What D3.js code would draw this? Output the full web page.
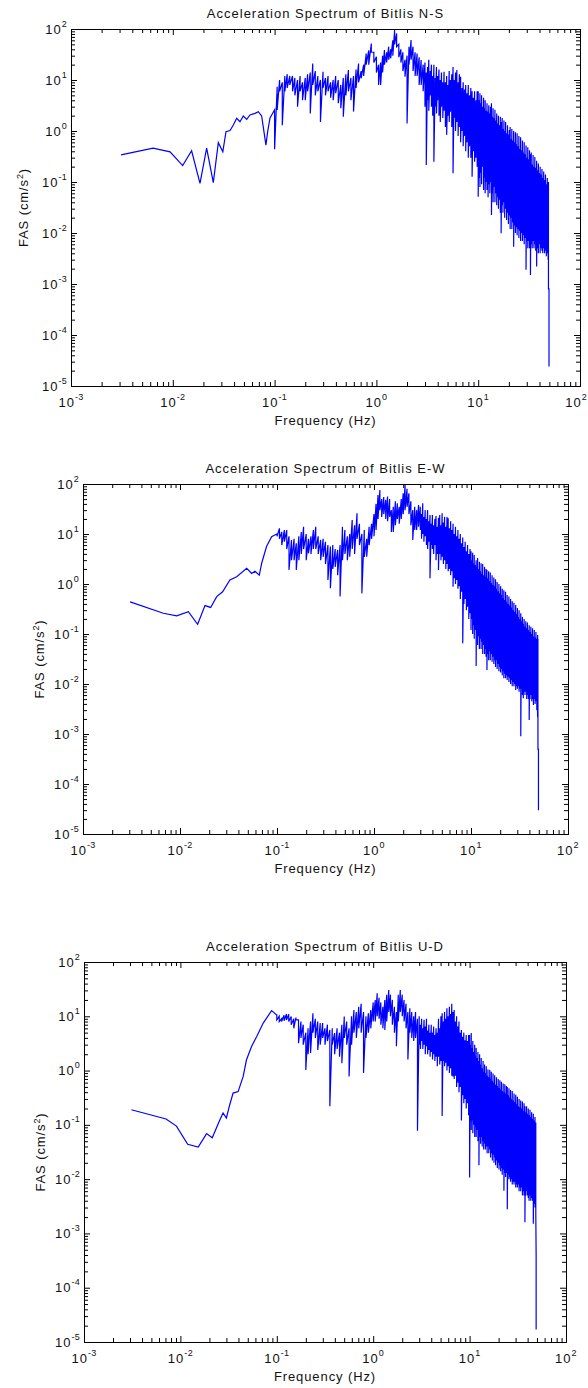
<!DOCTYPE html>
<html>
<head>
  <meta charset="utf-8">
  <script src="https://d3js.org/d3.v7.min.js"></script>
  <style>
    body {
      margin: 0;
      background: #fff;
    }
    svg text {
      font-family: "Liberation Sans", Arial, sans-serif;
      fill: #111;
    }
  </style>
</head>
<body>
<script type="text/javascript">
  "use strict";

  var titles = ["Acceleration Spectrum of Bitlis N-S",
                "Acceleration Spectrum of Bitlis E-W",
                "Acceleration Spectrum of Bitlis U-D"];
  var xTitle = "Frequency (Hz)";
  var xDecades = [1e-3, 1e-2, 1e-1, 1e0, 1e1, 1e2];
  var yDecades = [1e-5, 1e-4, 1e-3, 1e-2, 1e-1, 1e0, 1e1, 1e2];

  // smooth low frequency part of each spectrum: [Hz, cm/s2]
  var nsLow = [[0.0031,0.34],[0.0064,0.46],[0.0094,0.39],[0.0125,0.21],[0.0153,0.41],[0.0185,0.094],
    [0.0215,0.46],[0.025,0.097],[0.028,0.59],[0.031,0.39],[0.0333,0.97],[0.0365,1.02],[0.0393,1.31],
    [0.0424,1.78],[0.0457,1.52],[0.0493,1.97],[0.0532,1.69],[0.0573,2.06],[0.0641,2.22],[0.0692,2.39],
    [0.0746,1.97],[0.0822,0.53],[0.0855,0.97],[0.09,1.78],[0.0936,2.06]];
  var ewLow = [[0.00306,0.44],[0.00673,0.26],[0.00925,0.23],[0.0122,0.28],[0.0152,0.156],[0.0181,0.37],
    [0.0207,0.34],[0.0239,0.56],[0.0275,0.70],[0.0327,1.2],[0.0384,1.4],[0.0487,2.06],[0.0548,1.63],
    [0.0593,1.8],[0.0657,1.5],[0.0695,2.6],[0.078,5.6],[0.088,8.8],[0.0993,10]];
  var udLow = [[0.0031,0.19],[0.0071,0.128],[0.0091,0.095],[0.0119,0.044],[0.0153,0.039],[0.0187,0.069],
    [0.0214,0.058],[0.0255,0.12],[0.0277,0.166],[0.030,0.134],[0.0325,0.235],[0.0352,0.385],[0.0397,0.41],
    [0.0448,0.78],[0.0485,1.58],[0.0547,2.77],[0.0617,4.2],[0.0723,7.5],[0.0883,12.7],[0.0995,10.6]];

  // dense part: frequency bins (Hz); each panel gives [max, min] of the spectrum per bin
  var freqGrid = [
    // 0.1 - 1 Hz (40)
    0.100,0.106,0.112,0.119,0.126,0.133,0.141,0.150,0.158,0.168,0.178,0.188,0.200,0.211,0.224,0.237,
    0.251,0.266,0.282,0.299,0.316,0.335,0.355,0.376,0.398,0.422,0.447,0.473,0.501,0.531,0.562,0.596,
    0.631,0.668,0.708,0.750,0.794,0.841,0.891,0.944,
    // 1 - 3 Hz (24)
    1.00,1.05,1.10,1.15,1.20,1.26,1.32,1.38,1.45,1.51,1.58,1.66,1.74,1.82,1.91,2.00,2.09,2.19,2.29,2.40,
    2.51,2.63,2.75,2.88,
    // 3 - 10 Hz (42)
    3.00,3.09,3.18,3.27,3.37,3.47,3.57,3.67,3.78,3.89,4.00,4.12,4.24,4.36,4.49,4.62,4.76,4.90,5.04,5.19,
    5.34,5.50,5.66,5.82,5.99,6.17,6.35,6.53,6.72,6.92,7.12,7.33,7.54,7.76,7.99,8.22,8.46,8.71,8.96,9.22,
    9.49,9.77,
    // 10 - 50 Hz (82)
    10.0,10.2,10.4,10.6,10.8,11.0,11.3,11.5,11.7,12.0,12.2,12.5,12.7,13.0,13.2,13.5,13.8,14.0,14.3,14.6,
    14.9,15.2,15.5,15.8,16.2,16.5,16.8,17.2,17.5,17.9,18.2,18.6,19.0,19.4,19.8,20.2,20.6,21.0,21.4,21.8,
    22.3,22.7,23.2,23.6,24.1,24.6,25.1,25.6,26.1,26.6,27.2,27.7,28.3,28.9,29.5,30.1,30.7,31.3,31.9,32.6,
    33.2,33.9,34.6,35.3,36.0,36.7,37.5,38.2,39.0,39.8,40.6,41.4,42.3,43.1,44.0,44.9,45.8,46.7,47.7,48.6,
    49.0,49.6];

  var nsRange = [
    [2.6,0.44],[7.4,2.6],[10,6],[9,1.3],[12,6],[13,7],[12,8],[12,6],[11,5],[10,3.0],
    [12,6],[9,4],[11,4],[13,6],[14,2.2],[21,8],[15,5],[12,6],[10,1.5],[14.5,7],
    [11,5],[12,6],[9,4.5],[10,4],[12,5.5],[10,3.5],[8,2.8],[11,1.9],[13,5],[15.7,6],
    [11,4],[12,2.4],[16,7],[21,9],[15,10.8],[20,12],[33,20],[38,20],[52,35],[35,22],
    [28.6,14],[20,8],[22,8],[30,14],[38.7,20],[35,22],[45,25],[40,26.6],[60,30],[95,50],
    [82,45],[50,28],[40,22],[35,15],[25,11.6],[30,1.41],[45,20],[61,25],[45,15],[35,12],
    [33,12],[28,8],[24.7,8],[20,6],
    [22,3],[14,0.215],[18,4],[25,2.5],[15,5],[20,3],[12,2],[20,0.25],[11,3],[18,2.2],
    [12,4],[16,2],[10,1.5],[14,3],[9,1.8],[14.5,2.5],[9,1.2],[12,0.84],[8,2],[15,1.5],
    [10,2.4],[13,1.2],[18,0.148],[10,1.8],[14,1],[15.7,1.5],[9,0.8],[13,1.2],[11.6,0.6],[7,1],
    [9,0.5],[6.5,0.8],[8,0.4],[5.5,0.6],[8,0.3],[5,0.5],[7,0.3],[6,0.127],[4.5,0.4],[6,0.25],
    [4,0.3],[6,0.2],
    [6,0.0515],[4,0.12],[5.5,0.08],[3.5,0.15],[5,0.09],[3,0.2],[4.5,0.07],[2.8,0.12],[4,0.06],[2.5,0.1],
    [3.5,0.07],[2.4,0.05],[3.2,0.09],[2.2,0.06],[3,0.1],[3.5,0.0225],[1.9,0.06],[2.8,0.04],[1.8,0.08],[2.6,0.04],
    [1.6,0.06],[2.2,0.035],[1.4,0.05],[2,0.03],[1.3,0.045],[1.9,0.025],[1.5,0.0099],[1.8,0.035],[1.1,0.025],[1.6,0.04],
    [1.0,0.02],[1.5,0.03],[0.9,0.018],[1.3,0.025],[0.85,0.015],[1.05,0.022],[1.2,0.012],[0.7,0.02],[1.1,0.012],[0.65,0.016],
    [1,0.0054],[0.6,0.014],[0.95,0.01],[0.55,0.013],[0.9,0.009],[0.5,0.012],[0.8,0.008],[0.45,0.011],[0.75,0.007],[0.42,0.01],
    [0.65,0.007],[0.38,0.009],[0.6,0.006],[0.35,0.008],[0.52,0.0019],[0.3,0.007],[0.48,0.005],[0.28,0.007],[0.42,0.005],[0.35,0.0015],
    [0.38,0.006],[0.22,0.005],[0.34,0.007],[0.2,0.005],[0.31,0.006],[0.19,0.0045],[0.26,0.0022],[0.17,0.005],[0.23,0.004],[0.15,0.006],
    [0.2,0.004],[0.14,0.005],[0.18,0.0045],[0.12,0.004],[0.16,0.005],[0.11,0.004],[0.14,0.0045],[0.09,0.0035],[0.12,0.004],[0.09,0.003],
    [0.1,0.0008],[0.0008,0.000024]];

  var ewRange = [
    [10,9],[13,8],[11,6],[12,7],[12,5],[9,1.9],[7.6,3],[8,3],[6.5,1.9],[9,3],
    [11,4],[14,5],[10,3],[8,4.1],[9,4],[12,5],[14,5],[9,4],[7.6,3],[8,3.5],
    [7,2.5],[6,1.2],[5.6,0.82],[6,2],[5,2.2],[4.8,1.5],[6,0.56],[14,3],[12,4],[9,3],
    [10,3.5],[19,5],[15,4],[26,8],[16,6],[10,0.65],[12,3.5],[8,3.5],[14,6],[16,8],
    [25,9],[40,12],[60,20],[76,30],[50,22],[55,25],[48,20],[56,18],[50,22],[30,11],
    [35,11],[45,15],[41,20],[35,16],[50,20],[65,25],[95,30],[80,35],[65,25],[45,15],
    [30,7.6],[35,12],[30,12],[38,14],
    [35,12],[25,8],[41,10],[22,7],[30,9],[20,6],[30,5],[18,7],[24,1.3],[16,6],
    [24,5],[15,4],[20,6],[23,3],[14,4],[21,1.9],[24,4],[15,3],[26,3.5],[17,2.5],
    [22,3],[14,2],[22,2.5],[20.6,1.8],[13,2],[18,1.5],[12,1.8],[16,0.88],[10,1.3],[14,1],
    [9,1.2],[12,0.8],[8,0.9],[10,0.5],[6.5,0.7],[8.5,0.065],[5.5,0.4],[7,0.5],[4.5,0.3],[6,0.35],
    [4,0.2],[5,0.26],
    [4.5,0.12],[3,0.2],[4.2,0.1],[2.6,0.15],[3.8,0.08],[2.4,0.12],[3,0.023],[2.2,0.1],[3.3,0.06],[2,0.09],
    [2.8,0.05],[1.8,0.08],[2.6,0.05],[1.6,0.07],[2.5,0.04],[1.5,0.06],[2.2,0.04],[1.4,0.05],[2,0.035],[1.9,0.019],
    [1.3,0.04],[1.8,0.03],[1.15,0.045],[1.7,0.03],[1.05,0.04],[1.5,0.028],[0.95,0.035],[1.35,0.025],[0.9,0.03],[1.25,0.022],
    [0.8,0.03],[1.1,0.02],[0.72,0.025],[1,0.018],[0.65,0.022],[0.9,0.017],[0.6,0.02],[0.8,0.015],[0.52,0.018],[0.75,0.013],
    [0.48,0.016],[0.7,0.013],[0.44,0.015],[0.6,0.012],[0.4,0.014],[0.56,0.011],[0.37,0.013],[0.5,0.01],[0.34,0.012],[0.45,0.009],
    [0.3,0.011],[0.42,0.009],[0.28,0.01],[0.38,0.0076],[0.25,0.009],[0.33,0.008],[0.22,0.009],[0.3,0.007],[0.2,0.008],[0.26,0.0009],
    [0.18,0.008],[0.22,0.006],[0.16,0.0052],[0.2,0.007],[0.14,0.006],[0.18,0.007],[0.13,0.005],[0.17,0.006],[0.12,0.005],[0.15,0.0019],
    [0.11,0.005],[0.14,0.006],[0.1,0.0045],[0.13,0.005],[0.09,0.0038],[0.12,0.005],[0.085,0.004],[0.11,0.0045],[0.08,0.003],[0.095,0.0022],
    [0.08,0.0005],[0.0005,0.00003]];

  var udRange = [
    [10.6,8.6],[10,8],[9,8],[10.5,8.3],[11,8.5],[10.9,8],[9.9,7],[9,6],[9.5,8.6],[8.6,3.2],
    [8,4],[7,3],[5,1.03],[6,2],[8,2.1],[11.4,5],[9,4],[8,2.4],[7.5,3],[7.5,4],
    [6,3],[7,3.5],[5.6,0.22],[6,3],[4.9,2],[6,2.5],[5,1.8],[7,1.37],[9.9,4],[8,3],
    [6,0.78],[10,3],[13,5],[12,4],[15,6],[17,5],[12,0.9],[10,4],[11.4,5],[13,6],
    [18,8],[20,8],[26.6,10],[22,9],[18,7],[15,6],[20,5.6],[25,8],[30.5,12],[25,10],
    [20,7],[15,5],[12,2.8],[25,8],[30.5,12],[25,10],[20,8],[17,6],[12,1.6],[14,5],
    [12,4],[10,3.5],[12,4],[9,0.078],
    [10,3],[7,2.5],[9,3.5],[6,2.5],[8.6,3],[6.5,2],[9,2.8],[5.5,2],[7,2.4],[5,1.8],
    [7,2.2],[5,1.6],[6.5,2],[4.5,1.5],[6,1.8],[5,1.2],[9,1.8],[6,1.3],[10,1.5],[11.4,0.145],
    [8,1.5],[12,1.2],[9,1.4],[14,1],[10,1.2],[15,0.9],[11,1.1],[17,0.8],[12,0.78],[13,0.7],
    [8,0.8],[10,0.5],[6.5,0.6],[8,0.4],[5,0.5],[5.6,0.12],[4.2,0.35],[5,0.25],[3.6,0.3],[4.5,0.2],
    [3.5,0.25],[4.5,0.15],
    [4.5,0.0107],[3,0.12],[4.9,0.08],[2.6,0.12],[3.5,0.07],[2.2,0.1],[3,0.06],[1.9,0.09],[2.6,0.06],[1.7,0.08],
    [2.2,0.05],[1.5,0.018],[2,0.06],[1.3,0.045],[1.7,0.06],[1.1,0.04],[1.5,0.05],[0.95,0.035],[1.3,0.045],[0.9,0.035],
    [1.2,0.04],[0.8,0.03],[1.05,0.04],[0.75,0.03],[1.03,0.035],[0.7,0.025],[0.95,0.03],[0.65,0.022],[0.88,0.028],[0.6,0.02],
    [0.82,0.025],[0.55,0.018],[0.75,0.022],[0.52,0.016],[0.7,0.02],[0.48,0.015],[0.66,0.018],[0.45,0.014],[0.62,0.016],[0.42,0.012],
    [0.58,0.015],[0.4,0.0061],[0.56,0.013],[0.38,0.011],[0.52,0.013],[0.5,0.0028],[0.35,0.012],[0.47,0.01],[0.32,0.011],[0.44,0.009],
    [0.3,0.01],[0.42,0.008],[0.28,0.009],[0.38,0.008],[0.26,0.009],[0.36,0.007],[0.24,0.008],[0.33,0.007],[0.22,0.008],[0.3,0.006],
    [0.21,0.007],[0.28,0.006],[0.2,0.007],[0.27,0.005],[0.18,0.006],[0.25,0.005],[0.22,0.0016],[0.17,0.005],[0.22,0.006],[0.16,0.005],
    [0.2,0.0045],[0.15,0.004],[0.19,0.005],[0.14,0.004],[0.17,0.0045],[0.13,0.004],[0.16,0.0015],[0.12,0.0035],[0.14,0.003],[0.11,0.0023],
    [0.0004,0.000017],null];

  // plot boxes (pixels)
  var panels = [
    {title: titles[0], low: nsLow, range: nsRange, left: 71, right: 580, top: 29, bottom: 386, ylabX: 28},
    {title: titles[1], low: ewLow, range: ewRange, left: 83, right: 568, top: 484, bottom: 834, ylabX: 44},
    {title: titles[2], low: udLow, range: udRange, left: 84, right: 566, top: 962, bottom: 1342, ylabX: 45}
  ];

  var svg = d3.select("body")
    .append("svg")
      .attr("width", 588)
      .attr("height", 1388);

  function isDecade(v) {
    var l = Math.log10(v);
    return Math.abs(l - Math.round(l)) < 1e-6;
  }

  function powerLabel(sel, v) {
    sel.append("tspan").text("10");
    sel.append("tspan")
      .attr("dy", -7)
      .style("font-size", "9px")
      .style("letter-spacing", "0.3px")
      .text(Math.round(Math.log10(v)));
  }

  panels.forEach(function (p) {
    var x = d3.scaleLog().domain([1e-3, 1e2]).range([p.left, p.right]);
    var y = d3.scaleLog().domain([1e-5, 1e2]).range([p.bottom, p.top]);
    var g = svg.append("g");
    var cx = (p.left + p.right) / 2;

    // spectrum: smooth start, then max/min of every bin
    var pts = p.low.slice();
    freqGrid.forEach(function (f, i) {
      var r = p.range[i];
      if (!r) return;
      pts.push([f, r[0]]);
      pts.push([f, r[1]]);
    });

    var line = d3.line()
      .x(function (d) { return x(d[0]); })
      .y(function (d) { return y(d[1]); });

    g.append("path")
      .datum(pts)
      .attr("d", line)
      .attr("fill", "none")
      .attr("stroke", "#0000ff")
      .attr("stroke-width", 1.2);

    // ticks on all four sides, pointing inwards
    var xMinor = x.ticks().filter(function (v) { return !isDecade(v); });
    var yMinor = y.ticks().filter(function (v) { return !isDecade(v); });

    function addAxis(axis, tx, ty) {
      g.append("g")
        .attr("transform", "translate(" + tx + "," + ty + ")")
        .call(axis.tickSizeOuter(0).tickFormat(""))
        .call(function (a) { a.selectAll("path, line").attr("stroke", "#000"); });
    }

    addAxis(d3.axisBottom(x).tickValues(xDecades).tickSizeInner(-6), 0, p.bottom);
    addAxis(d3.axisBottom(x).tickValues(xMinor).tickSizeInner(-4), 0, p.bottom);
    addAxis(d3.axisTop(x).tickValues(xDecades).tickSizeInner(-6), 0, p.top);
    addAxis(d3.axisTop(x).tickValues(xMinor).tickSizeInner(-4), 0, p.top);
    addAxis(d3.axisLeft(y).tickValues(yDecades).tickSizeInner(-6), p.left, 0);
    addAxis(d3.axisLeft(y).tickValues(yMinor).tickSizeInner(-4), p.left, 0);
    addAxis(d3.axisRight(y).tickValues(yDecades).tickSizeInner(-6), p.right, 0);
    addAxis(d3.axisRight(y).tickValues(yMinor).tickSizeInner(-4), p.right, 0);

    // tick labels as powers of ten
    g.selectAll(".xlab")
      .data(xDecades)
      .enter()
      .append("text")
        .attr("x", function (d) { return x(d); })
        .attr("y", p.bottom + 21)
        .attr("text-anchor", "middle")
        .style("font-size", "13px")
        .style("letter-spacing", "1px")
        .each(function (d) {
          powerLabel(d3.select(this), d);
          // keep the last label inside the page
          var b = this.getBBox();
          if (b.x + b.width > 587) {
            this.setAttribute("x", x(d) - (b.x + b.width - 587));
          }
        });

    g.selectAll(".ylab")
      .data(yDecades)
      .enter()
      .append("text")
        .attr("x", p.left - 4)
        .attr("y", function (d) { return y(d) + 4.5; })
        .attr("text-anchor", "end")
        .style("font-size", "13px")
        .style("letter-spacing", "1px")
        .each(function (d) { powerLabel(d3.select(this), d); });

    g.append("text")
      .attr("x", cx)
      .attr("y", p.top - 11.5)
      .attr("text-anchor", "middle")
      .style("font-size", "13px")
      .style("letter-spacing", "1px")
      .text(p.title);

    g.append("text")
      .attr("x", cx)
      .attr("y", p.bottom + 39)
      .attr("text-anchor", "middle")
      .style("font-size", "13px")
      .style("letter-spacing", "0.9px")
      .text(xTitle);

    var yl = g.append("text")
      .attr("transform", "translate(" + p.ylabX + "," + ((p.top + p.bottom) / 2) + ") rotate(-90)")
      .attr("text-anchor", "middle")
      .style("font-size", "13px")
      .style("letter-spacing", "0.9px");
    yl.append("tspan").text("FAS (cm/s");
    yl.append("tspan").attr("dy", -5).style("font-size", "9px").text("2");
    yl.append("tspan").attr("dy", 5).text(")");
  });
</script>
</body>
</html>
